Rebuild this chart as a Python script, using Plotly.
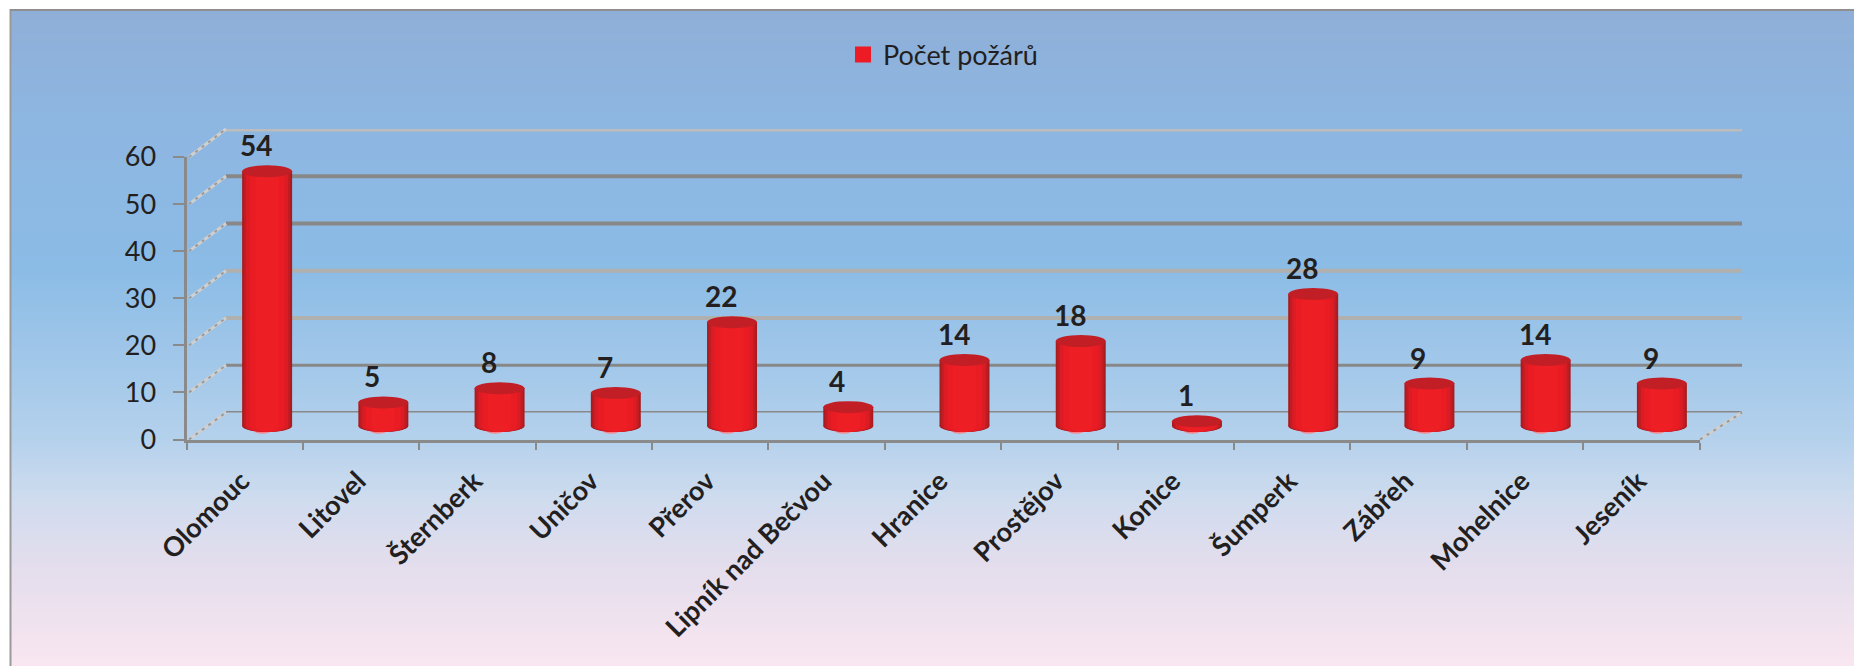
import plotly.graph_objects as go

# ---- data ----
categories = ["Olomouc", "Litovel", "Šternberk", "Uničov", "Přerov", "Lipník nad Bečvou",
              "Hranice", "Prostějov", "Konice", "Šumperk", "Zábřeh", "Mohelnice", "Jeseník"]
values = [54, 5, 8, 7, 22, 4, 14, 18, 1, 28, 9, 14, 9]
series_name = "Počet požárů"
y_ticks = [0, 10, 20, 30, 40, 50, 60]

# ---- layout helpers (pixel geometry of the pseudo-3D box) ----
W, H = 1854, 666
FONT = "Lato"
INK = "#231f20"
AXIS = "#8a8a8a"


def px(x):
    return x / W


def py(y):
    return 1 - y / H


def dom_x(a, b):
    return [px(a), px(b)]


def dom_y(bottom, top):
    return [py(bottom), py(top)]


FRONT_X, FRONT_Y = (186.5, 1699.5), (439.5, 157)
BACK_X, BACK_Y = (226, 1742), (412.5, 129)
MID_X, MID_Y = (209, 1720), (426, 143)
UNIT = (MID_Y[0] - MID_Y[1]) / 60
BELOW = 4  # value units kept under the zero line so the rounded bases are not clipped

fig = go.Figure()

# cylinder body: nested bars give the horizontal shading
bands = [(0.43, "#a61c20"), (0.40, "#c01d23"), (0.36, "#dc1c24"),
         (0.30, "#e91c24"), (0.20, "#ee1e25")]
for w, c in bands:
    fig.add_trace(go.Bar(x=categories, y=values, width=w, marker=dict(color=c, line=dict(width=0)),
                         showlegend=False, hoverinfo="skip", xaxis="x2", yaxis="y2"))

# legend entry and front axes carrier
fig.add_trace(go.Scatter(x=categories, y=[None] * len(categories), mode="markers", name=series_name,
                         marker=dict(symbol="square", size=16, color="#ed1c24"),
                         xaxis="x3", yaxis="y3", showlegend=True))

shapes = []
# background gradient
stops = [(11, (143, 175, 216)), (120, (141, 182, 225)), (270, (139, 188, 230)), (440, (181, 209, 236)),
         (500, (207, 220, 238)), (560, (226, 221, 237)), (666, (249, 230, 240))]


def bg(y):
    for (y0, c0), (y1, c1) in zip(stops, stops[1:]):
        if y <= y1:
            t = (y - y0) / (y1 - y0)
            return "rgb(%d,%d,%d)" % tuple(round(a + (b - a) * t) for a, b in zip(c0, c1))
    return "rgb(%d,%d,%d)" % stops[-1][1]


step = 4
for y in range(11, H, step):
    shapes.append(dict(type="rect", xref="paper", yref="paper", x0=px(11), x1=1, y0=py(y), y1=py(y + step + 1),
                       fillcolor=bg(y + step / 2), line=dict(width=0), layer="below"))
# chart frame
shapes.append(dict(type="line", xref="paper", yref="paper", x0=px(10.5), x1=px(10.5), y0=0, y1=py(9),
                   line=dict(color="#9a9a9a", width=2), layer="below"))
shapes.append(dict(type="line", xref="paper", yref="paper", x0=px(10), x1=1, y0=py(10), y1=py(10),
                   line=dict(color="#8f8f8f", width=2), layer="below"))

# back wall grid
grid_colors = {0: "#888888", 10: "#888888", 20: "#b0b0ae", 30: "#b0b0ae", 40: "#888888", 50: "#888888", 60: "#bcbcbc"}
grid_widths = {0: 3, 10: 3, 20: 4, 30: 4, 40: 4, 50: 4, 60: 5}
for t in y_ticks:
    shapes.append(dict(type="line", xref="x domain", yref="y", x0=0, x1=1, y0=t, y1=t,
                       line=dict(color=grid_colors[t], width=grid_widths[t]), layer="below"))
shapes.append(dict(type="line", xref="x domain", yref="y", x0=0, x1=1, y0=60.3, y1=60.3,
                   line=dict(color="#a0a0a0", width=2), layer="below"))

# depth lines from the front axis to the back wall
fy = lambda t: FRONT_Y[0] + (FRONT_Y[1] - FRONT_Y[0]) * t / 60
by = lambda t: BACK_Y[0] + (BACK_Y[1] - BACK_Y[0]) * t / 60
for t in y_ticks:
    seg = [(189, fy(t), BACK_X[0], by(t))]
    if t == 0:
        seg.append((1700, fy(0), BACK_X[1], by(0)))
    for x0, y0, x1, y1 in seg:
        shapes.append(dict(type="line", xref="paper", yref="paper", x0=px(x0), x1=px(x1), y0=py(y0), y1=py(y1),
                           line=dict(color="#cfcfcf", width=3), layer="below"))
        shapes.append(dict(type="line", xref="paper", yref="paper", x0=px(x0), x1=px(x1), y0=py(y0), y1=py(y1),
                           line=dict(color="#9a9a9a", width=2, dash="3px,5px"), layer="below"))

# cylinder ends, derived from the data values
RY = 6 / UNIT
annotations = []
for i, (name, v) in enumerate(zip(categories, values)):
    # rounded base, kept behind the bars so only its lower half shows
    shapes.append(dict(type="circle", xref="x2", yref="y2", x0=i - 0.14, x1=i + 0.06, y0=-RY - 0.35, y1=RY,
                       fillcolor="#f6858b", line=dict(width=0), layer="below"))
    for w, c in bands:
        shapes.append(dict(type="circle", xref="x2", yref="y2", x0=i - w / 2, x1=i + w / 2, y0=-RY, y1=RY,
                           fillcolor=c, line=dict(width=0), layer="below"))
    # top cap
    shapes.append(dict(type="circle", xref="x2", yref="y2", x0=i - 0.215, x1=i + 0.215, y0=v - RY, y1=v + RY,
                       fillcolor="#c21e25", line=dict(width=0), layer="above"))
    annotations.append(dict(x=name, y=v, xref="x2", yref="y2", text=str(v), showarrow=False, xshift=-11, yshift=26,
                            font=dict(family=FONT, size=28, color=INK, weight="bold")))

hidden = dict(visible=False, fixedrange=True)
fig.update_layout(
    width=W, height=H, autosize=False,
    margin=dict(l=0, r=0, t=0, b=0, pad=0, autoexpand=False),
    paper_bgcolor="white", plot_bgcolor="rgba(0,0,0,0)",
    barmode="overlay",
    font=dict(family=FONT, color=INK),
    showlegend=True,
    legend=dict(x=px(843), y=py(55), xanchor="left", yanchor="middle", orientation="h",
                bgcolor="rgba(0,0,0,0)", borderwidth=0, itemwidth=30,
                font=dict(family=FONT, size=27, color=INK)),
    hovermode=False,
    # back wall
    xaxis=dict(domain=dom_x(*BACK_X), range=[0, 1], **hidden),
    yaxis=dict(domain=dom_y(*BACK_Y), range=[0, 60], anchor="x", **hidden),
    # bars, half way through the depth of the box
    xaxis2=dict(domain=dom_x(*MID_X), type="category", categoryorder="array", categoryarray=categories,
                range=[-0.5, 12.5], anchor="y2", **hidden),
    yaxis2=dict(domain=dom_y(MID_Y[0] + BELOW * UNIT, MID_Y[1]), range=[-BELOW, 60], anchor="x2", **hidden),
    # visible front axes
    xaxis3=dict(domain=dom_x(*FRONT_X), type="category", categoryorder="array", categoryarray=categories,
                range=[-0.5, 12.5], anchor="y3", showgrid=False, showline=True, linecolor=AXIS, linewidth=3,
                ticks="outside", tickson="boundaries", ticklen=7, tickwidth=2, tickcolor=AXIS, tickangle=-45,
                ticklabelshift=-3, ticklabelstandoff=12, fixedrange=True,
                tickfont=dict(family=FONT, size=27, color=INK, weight="bold")),
    yaxis3=dict(domain=dom_y(*FRONT_Y), range=[0, 60], anchor="x3", tickvals=y_ticks, showgrid=False,
                zeroline=False, showline=True, linecolor=AXIS, linewidth=3, ticks="outside", ticklen=11,
                tickwidth=2, tickcolor=AXIS, ticklabelstandoff=11, fixedrange=True,
                tickfont=dict(family=FONT, size=27, color=INK)),
    shapes=shapes,
    annotations=annotations,
)

fig.write_html("out.html", config={"displayModeBar": False},
               post_script="document.body.style.margin='0';")
